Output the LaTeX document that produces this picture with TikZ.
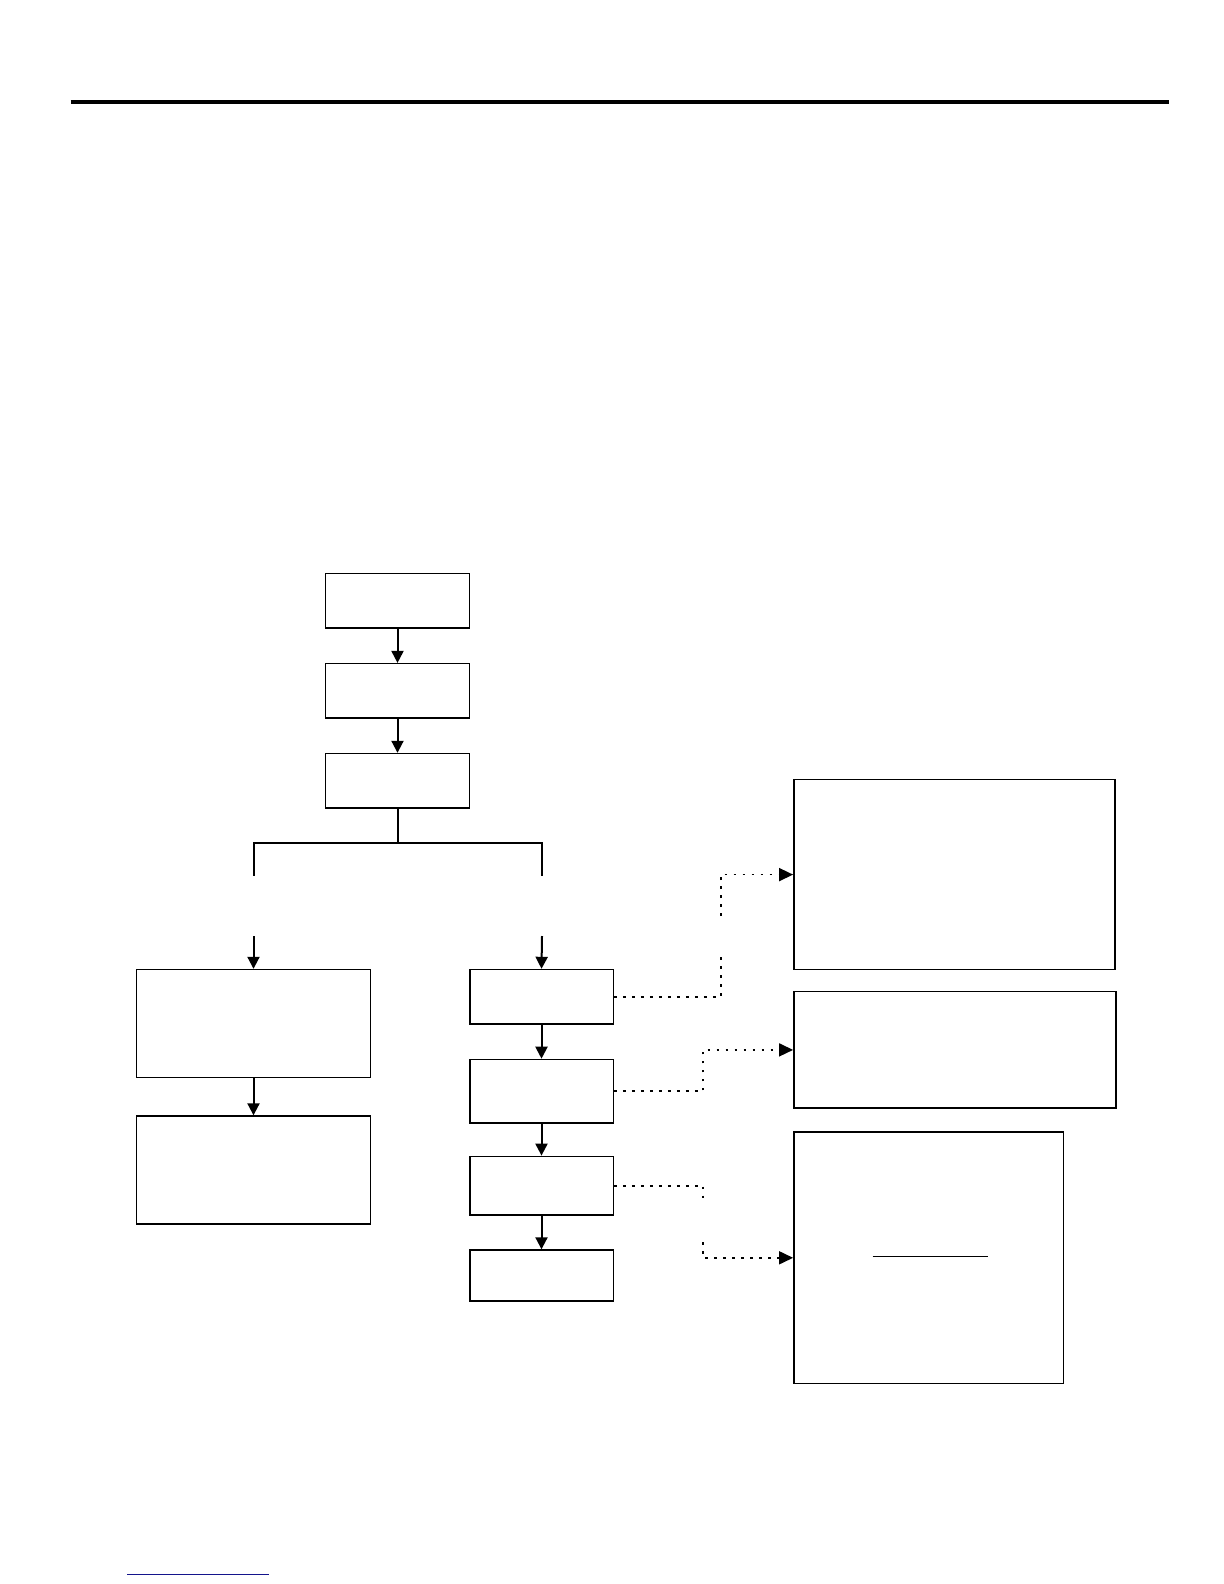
\documentclass[tikz,border=0pt]{standalone}
\usetikzlibrary{arrows.meta}
\definecolor{linkblue}{RGB}{20,20,140}
\begin{document}
\begin{tikzpicture}[x=0.5pt,y=-0.5pt,
  box/.style={draw,line width=0.7pt,inner sep=0pt,rectangle},
  flow/.style={line width=1pt,-{Triangle[length=6pt,width=6pt]}},
  branch/.style={line width=1pt},
  dots/.style={line width=0.8pt,dash pattern=on 1.3pt off 3.2pt},
  dotarrow/.style={dots,-{Triangle[length=7pt,width=6.5pt,sep=0pt]}}]
\useasboundingbox[fill=white] (0,0) rectangle (1224,1584);
% top rule and bottom link line
\coordinate (r1) at (70.7,102);
\coordinate (r2) at (1168.5,102);
\draw[line width=1.6pt] (r1) -- (r2);
\coordinate (b1) at (127,1574.5);
\coordinate (b2) at (268.6,1574.5);
\draw[linkblue,line width=0.7pt] (b1) -- (b2);
% top column
\node[box,minimum width=72pt,minimum height=27.2pt] (A) at (397.5,600.8) {};
\node[box,minimum width=72pt,minimum height=27.2pt] (B) at (397.5,690.8) {};
\node[box,minimum width=72pt,minimum height=27.2pt] (C) at (397.5,780.7) {};
\draw[flow] (A) -- (B);
\draw[flow] (B) -- (C);
% branch
\coordinate (jL) at (253.5,843);
\coordinate (jR) at (542,843);
\coordinate (brL) at (253.5,875.6);
\coordinate (brR) at (542,875.6);
\draw[branch] (C.south) -- (C.south |- jL);
\draw[branch] (brL) -- (jL) -- (jR) -- (brR);
% left column
\node[box,minimum width=117.2pt,minimum height=54pt] (L1) at (253.5,1023.5) {};
\node[box,minimum width=117.2pt,minimum height=54pt] (L2) at (253.5,1170) {};
\coordinate (aL) at (253.5,936);
\draw[flow] (aL) -- (L1.north);
\draw[flow] (L1) -- (L2);
% right column
\node[box,minimum width=71.7pt,minimum height=27.3pt] (R1) at (541.5,996.8) {};
\node[box,minimum width=71.7pt,minimum height=31.8pt] (R2) at (541.5,1091.2) {};
\node[box,minimum width=71.7pt,minimum height=29.4pt] (R3) at (541.5,1185.7) {};
\node[box,minimum width=71.7pt,minimum height=25.4pt] (R4) at (541.5,1275.4) {};
\coordinate (aR) at (542,936);
\draw[flow] (aR) -- (R1.north);
\draw[flow] (R1) -- (R2);
\draw[flow] (R2) -- (R3);
\draw[flow] (R3) -- (R4);
% right boxes
\node[box,minimum width=160.6pt,minimum height=94.9pt] (P) at (954.4,874.6) {};
\node[box,minimum width=161.1pt,minimum height=58.2pt] (Q) at (954.9,1049.9) {};
\node[box,minimum width=134.8pt,minimum height=125.8pt] (S) at (928.6,1257.8) {};
\coordinate (s1) at (872.5,1256.3);
\coordinate (s2) at (987.7,1256.3);
\draw[line width=0.6pt] (s1) -- (s2);
% dotted connectors
\coordinate (d1a) at (721,955.4);
\coordinate (d1b) at (721,916);
\draw[dots] (R1.east) -| (d1a);
\draw[dotarrow] (d1b) |- (P.west);
\coordinate (m2) at (703,1070);
\draw[dotarrow] (R2.east) -| (m2) |- (Q.west);
\coordinate (d3a) at (703,1200);
\coordinate (d3b) at (703,1242);
\draw[dots] (R3.east) -| (d3a);
\draw[dotarrow] (d3b) |- (S.west);
\end{tikzpicture}
\end{document}
